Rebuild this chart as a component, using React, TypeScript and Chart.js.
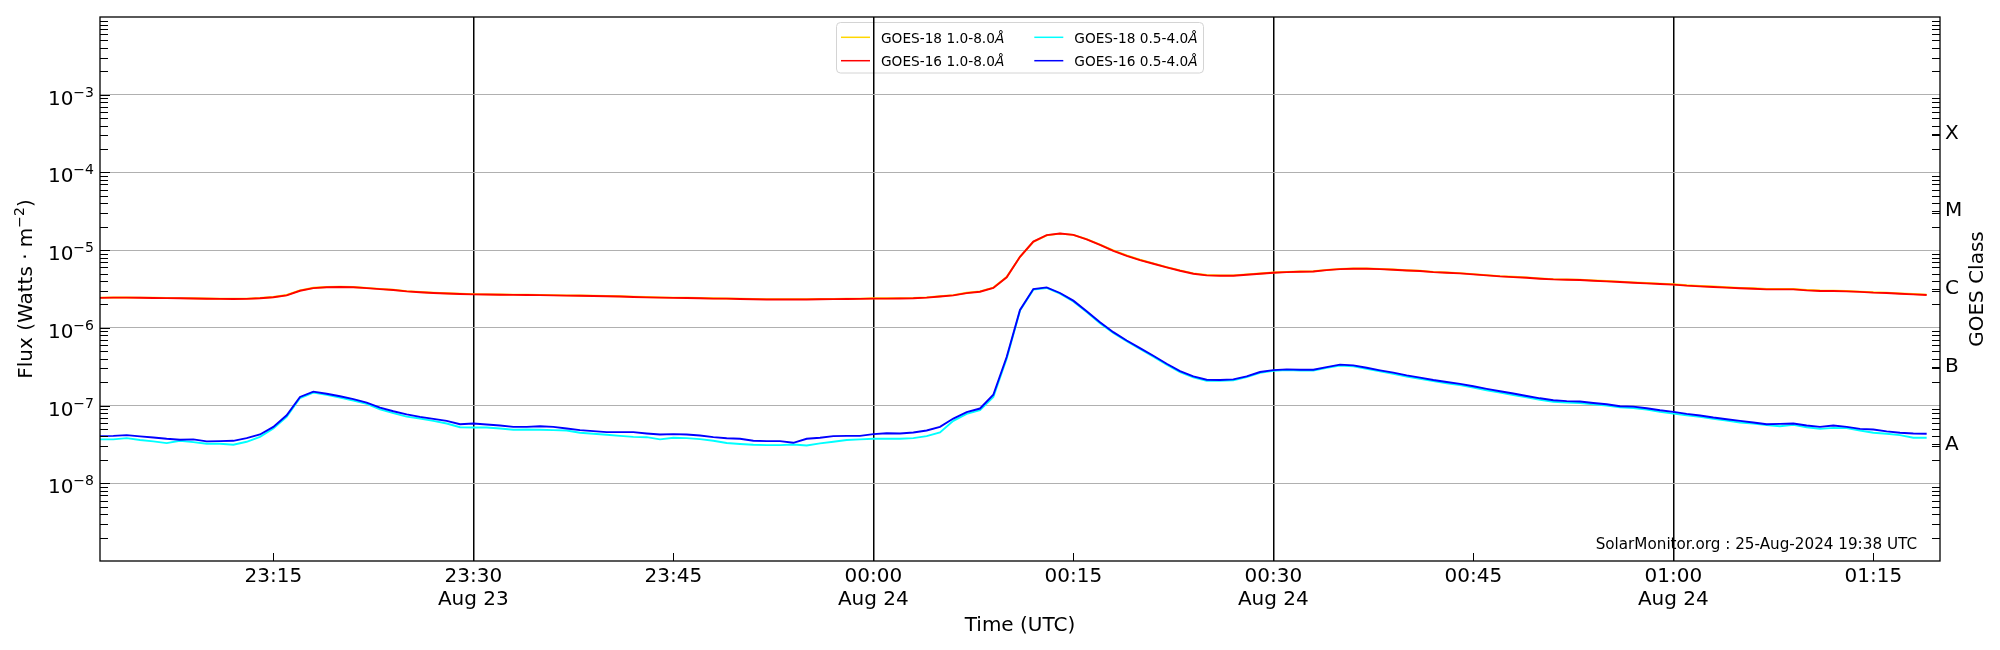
import React, { useEffect, useRef } from "react";
import { Chart, registerables } from "chart.js";

Chart.register(...registerables);

// minutes after 23:00 UT on Aug 23 (60 = 00:00 Aug 24)
const minutes = [
  2, 3, 4, 5, 6, 7, 8, 9, 10, 11,
  12, 13, 14, 15, 16, 17, 18, 19, 20, 21,
  22, 23, 24, 25, 26, 27, 28, 29, 30, 31,
  32, 33, 34, 35, 36, 37, 38, 39, 40, 41,
  42, 43, 44, 45, 46, 47, 48, 49, 50, 51,
  52, 53, 54, 55, 56, 57, 58, 59, 60, 61,
  62, 63, 64, 65, 66, 67, 68, 69, 70, 71,
  72, 73, 74, 75, 76, 77, 78, 79, 80, 81,
  82, 83, 84, 85, 86, 87, 88, 89, 90, 91,
  92, 93, 94, 95, 96, 97, 98, 99, 100, 101,
  102, 103, 104, 105, 106, 107, 108, 109, 110, 111,
  112, 113, 114, 115, 116, 117, 118, 119, 120, 121,
  122, 123, 124, 125, 126, 127, 128, 129, 130, 131,
  132, 133, 134, 135, 136, 137, 138, 139,
];

// 1.0-8.0 A channel, in 1e-6 W/m2
const goes18Long = [
  2.45, 2.47, 2.46, 2.45, 2.44, 2.42, 2.41, 2.4, 2.39, 2.37,
  2.37, 2.38, 2.42, 2.5, 2.65, 3.04, 3.28, 3.36, 3.38, 3.35,
  3.27, 3.17, 3.09, 2.97, 2.89, 2.83, 2.79, 2.75, 2.72, 2.7,
  2.69, 2.68, 2.67, 2.66, 2.64, 2.62, 2.61, 2.59, 2.57, 2.55,
  2.52, 2.49, 2.47, 2.45, 2.44, 2.42, 2.4, 2.39, 2.37, 2.35,
  2.34, 2.34, 2.34, 2.34, 2.35, 2.36, 2.37, 2.38, 2.4, 2.4,
  2.41, 2.42, 2.47, 2.55, 2.64, 2.83, 2.95, 3.3, 4.5, 8.2,
  12.8, 15.5, 16.3, 15.7, 13.9, 11.8, 9.9, 8.55, 7.52, 6.75,
  6.06, 5.49, 5.02, 4.78, 4.73, 4.73, 4.87, 5.01, 5.16, 5.26,
  5.32, 5.36, 5.58, 5.74, 5.8, 5.8, 5.74, 5.64, 5.52, 5.42,
  5.26, 5.16, 5.06, 4.91, 4.77, 4.63, 4.54, 4.46, 4.33, 4.24,
  4.2, 4.16, 4.08, 4.0, 3.93, 3.85, 3.78, 3.71, 3.64, 3.53,
  3.46, 3.4, 3.33, 3.27, 3.23, 3.17, 3.16, 3.16, 3.08, 3.02,
  3.01, 2.98, 2.93, 2.87, 2.84, 2.78, 2.73, 2.68,
];
const goes16Long = [
  2.43, 2.45, 2.45, 2.44, 2.42, 2.41, 2.4, 2.39, 2.37, 2.36,
  2.35, 2.36, 2.4, 2.48, 2.62, 3.0, 3.25, 3.33, 3.36, 3.33,
  3.25, 3.15, 3.07, 2.95, 2.87, 2.81, 2.77, 2.73, 2.7, 2.69,
  2.67, 2.66, 2.65, 2.64, 2.62, 2.6, 2.59, 2.57, 2.55, 2.53,
  2.5, 2.47, 2.45, 2.43, 2.42, 2.4, 2.38, 2.38, 2.35, 2.33,
  2.32, 2.32, 2.32, 2.32, 2.33, 2.34, 2.35, 2.36, 2.38, 2.38,
  2.39, 2.4, 2.45, 2.53, 2.62, 2.8, 2.92, 3.26, 4.47, 8.22,
  12.9, 15.6, 16.4, 15.7, 13.8, 11.7, 9.8, 8.45, 7.44, 6.68,
  6.0, 5.43, 4.97, 4.73, 4.69, 4.69, 4.83, 4.97, 5.12, 5.22,
  5.28, 5.32, 5.54, 5.7, 5.76, 5.76, 5.7, 5.6, 5.48, 5.38,
  5.22, 5.12, 5.02, 4.87, 4.73, 4.59, 4.5, 4.42, 4.29, 4.2,
  4.16, 4.12, 4.04, 3.96, 3.89, 3.81, 3.74, 3.67, 3.6, 3.49,
  3.42, 3.36, 3.29, 3.23, 3.19, 3.13, 3.13, 3.13, 3.04, 2.98,
  2.98, 2.95, 2.9, 2.84, 2.81, 2.75, 2.7, 2.65,
];

// 0.5-4.0 A channel, in 1e-8 W/m2
const goes18Short = [
  3.67, 3.67, 3.81, 3.6, 3.46, 3.29, 3.52, 3.39, 3.23, 3.23,
  3.13, 3.42, 3.96, 5.07, 7.16, 12.5, 14.7, 13.8, 12.7, 11.6,
  10.5, 8.97, 7.98, 7.2, 6.81, 6.36, 5.88, 5.27, 5.22, 5.22,
  5.07, 4.88, 4.93, 4.88, 4.83, 4.78, 4.47, 4.34, 4.21, 4.08,
  3.96, 3.92, 3.67, 3.85, 3.81, 3.7, 3.52, 3.3, 3.2, 3.13,
  3.1, 3.1, 3.16, 3.06, 3.26, 3.42, 3.6, 3.67, 3.74, 3.74,
  3.74, 3.81, 4.05, 4.51, 6.36, 7.8, 8.7, 12.9, 40.0, 167,
  310, 326, 275, 219, 160, 115, 86, 67.2, 53.5, 42.6,
  33.6, 27.0, 23.1, 20.9, 20.8, 21.2, 23.2, 26.4, 28.0, 28.6,
  28.3, 28.2, 30.6, 32.8, 32.0, 29.8, 27.5, 25.6, 23.7, 22.1,
  20.6, 19.4, 18.3, 17.0, 15.7, 14.7, 13.7, 12.8, 11.9, 11.2,
  10.9, 10.8, 10.4, 10.0, 9.5, 9.3, 8.89, 8.29, 7.89, 7.51,
  7.16, 6.75, 6.43, 6.05, 5.88, 5.6, 5.43, 5.65, 5.27, 5.02,
  5.17, 5.12, 4.78, 4.47, 4.34, 4.17, 3.85, 3.85,
];
const goes16Short = [
  4.05, 4.08, 4.17, 4.01, 3.89, 3.74, 3.63, 3.67, 3.46, 3.49,
  3.52, 3.81, 4.25, 5.32, 7.51, 12.9, 15.1, 14.2, 13.2, 12.1,
  10.9, 9.42, 8.46, 7.7, 7.16, 6.75, 6.36, 5.76, 5.88, 5.7,
  5.54, 5.32, 5.32, 5.43, 5.32, 5.07, 4.83, 4.69, 4.55, 4.55,
  4.55, 4.38, 4.25, 4.29, 4.25, 4.12, 3.92, 3.8, 3.74, 3.52,
  3.49, 3.49, 3.32, 3.74, 3.85, 4.05, 4.08, 4.08, 4.29, 4.41,
  4.38, 4.51, 4.78, 5.32, 6.81, 8.22, 9.16, 13.8, 42.1, 170,
  316, 332, 281, 224, 164, 118, 88, 68.8, 54.8, 43.7,
  34.5, 27.8, 23.8, 21.5, 21.3, 21.7, 23.8, 27.0, 28.6, 29.2,
  28.9, 28.9, 31.3, 33.6, 32.9, 30.7, 28.4, 26.5, 24.5, 22.9,
  21.3, 20.1, 19.0, 17.7, 16.4, 15.3, 14.3, 13.3, 12.4, 11.7,
  11.4, 11.3, 10.8, 10.4, 9.8, 9.7, 9.25, 8.71, 8.29, 7.82,
  7.45, 7.02, 6.68, 6.36, 6.05, 5.76, 5.82, 5.88, 5.54, 5.32,
  5.54, 5.32, 5.02, 4.93, 4.65, 4.47, 4.38, 4.34,
];

const tickMinutes = [15, 30, 45, 60, 75, 90, 105, 120, 135];
const tickTimes = ["23:15", "23:30", "23:45", "00:00", "00:15", "00:30", "00:45", "01:00", "01:15"];
const tickDates = ["", "Aug 23", "", "Aug 24", "", "Aug 24", "", "Aug 24", ""];
const dayLineMinutes = [30, 60, 90, 120];

const fluxTicks = [1e-8, 1e-7, 1e-6, 1e-5, 1e-4, 1e-3];
const fluxExponents = ["\u22128", "\u22127", "\u22126", "\u22125", "\u22124", "\u22123"];
const classTicks = [3.162e-8, 3.162e-7, 3.162e-6, 3.162e-5, 3.162e-4];
const classLabels = ["A", "B", "C", "M", "X"];

const FONT = '"DejaVu Sans", sans-serif';

const series = [
  { label: "GOES-18 1.0-8.0", values: goes18Long, unit: 1e-6, color: "#ffd700", order: 4 },
  { label: "GOES-16 1.0-8.0", values: goes16Long, unit: 1e-6, color: "#ff0000", order: 3 },
  { label: "GOES-18 0.5-4.0", values: goes18Short, unit: 1e-8, color: "#00ffff", order: 2 },
  { label: "GOES-16 0.5-4.0", values: goes16Short, unit: 1e-8, color: "#0000ff", order: 1 },
];

// text with optional superscript pieces, left to right from x
function drawPieces(ctx: CanvasRenderingContext2D, pieces: any[], x: number, y: number) {
  let cx = x;
  for (const p of pieces) {
    ctx.font = `${p.italic ? "italic " : ""}${p.size}px ${FONT}`;
    ctx.fillText(p.text, cx, y - (p.rise || 0));
    cx += ctx.measureText(p.text).width;
  }
  return cx - x;
}

function piecesWidth(ctx: CanvasRenderingContext2D, pieces: any[]) {
  let w = 0;
  for (const p of pieces) {
    ctx.font = `${p.italic ? "italic " : ""}${p.size}px ${FONT}`;
    w += ctx.measureText(p.text).width;
  }
  return w;
}

const decor = {
  id: "goesDecor",
  beforeDraw(chart: any) {
    const { ctx, width, height } = chart;
    ctx.save();
    ctx.fillStyle = "#ffffff";
    ctx.fillRect(0, 0, width, height);

    // legend, two columns like matplotlib
    ctx.beginPath();
    ctx.roundRect(836.5, 22.5, 367, 50.5, 4);
    ctx.fillStyle = "#ffffff";
    ctx.fill();
    ctx.strokeStyle = "#d4d4d4";
    ctx.lineWidth = 1;
    ctx.stroke();
    const slots = [
      [841, 37.3],
      [841, 60.7],
      [1034.3, 37.3],
      [1034.3, 60.7],
    ];
    series.forEach((s, i) => {
      const [lx, ly] = slots[i];
      ctx.beginPath();
      ctx.moveTo(lx, ly);
      ctx.lineTo(lx + 29, ly);
      ctx.strokeStyle = s.color;
      ctx.lineWidth = 1.5;
      ctx.stroke();
      ctx.fillStyle = "#000";
      ctx.textAlign = "left";
      ctx.textBaseline = "alphabetic";
      drawPieces(ctx, [
        { text: s.label, size: 13.7 },
        { text: "\u00c5", size: 13.7, italic: true },
      ], lx + 40, ly + 5.2);
    });

    // watermark
    ctx.font = `15.2px ${FONT}`;
    ctx.fillStyle = "#000";
    ctx.textAlign = "right";
    ctx.textBaseline = "alphabetic";
    ctx.fillText("SolarMonitor.org : 25-Aug-2024 19:38 UTC", 1917, 549);
    ctx.restore();
  },
  afterDraw(chart: any) {
    const { ctx, chartArea: a, scales } = chart;
    const y = scales.y;
    const x = scales.x;
    ctx.save();
    ctx.strokeStyle = "#000";
    ctx.lineWidth = 1;
    ctx.beginPath();
    for (let e = -9; e < -2; e++) {
      for (let k = 1; k <= 9; k++) {
        const v = k * Math.pow(10, e);
        if (v <= 1.0001e-9 || v >= 0.9999e-2) continue;
        const py = Math.round(y.getPixelForValue(v)) + 0.5;
        ctx.moveTo(a.left, py);
        ctx.lineTo(a.left + (k === 1 ? 10 : 8), py);
        if (k !== 1) {
          ctx.moveTo(a.right, py);
          ctx.lineTo(a.right - 8, py);
        }
      }
    }
    for (const v of classTicks) {
      const py = Math.round(y.getPixelForValue(v)) + 0.5;
      ctx.moveTo(a.right, py);
      ctx.lineTo(a.right - 8, py);
    }
    for (const m of tickMinutes) {
      const px = Math.round(x.getPixelForValue(m)) + 0.5;
      ctx.moveTo(px, a.bottom);
      ctx.lineTo(px, a.bottom - 8);
    }
    ctx.stroke();

    // frame
    ctx.lineWidth = 1.3;
    ctx.strokeRect(a.left, a.top, a.right - a.left, a.bottom - a.top);

    // left tick labels 10^n
    ctx.fillStyle = "#000";
    ctx.textAlign = "left";
    ctx.textBaseline = "alphabetic";
    fluxTicks.forEach((v, i) => {
      const py = y.getPixelForValue(v);
      const pieces = [
        { text: "10", size: 20 },
        { text: fluxExponents[i], size: 14, rise: 8 },
      ];
      const w = piecesWidth(ctx, pieces);
      drawPieces(ctx, pieces, a.left - 6 - w, py + 10);
    });

    // axis titles
    const midY = (a.top + a.bottom) / 2;
    const flux = [
      { text: "Flux (Watts \u00b7 m", size: 20 },
      { text: "\u22122", size: 14, rise: 8 },
      { text: ")", size: 20 },
    ];
    ctx.save();
    ctx.translate(32, midY);
    ctx.rotate(-Math.PI / 2);
    drawPieces(ctx, flux, -piecesWidth(ctx, flux) / 2, 0);
    ctx.restore();

    const cls = [{ text: "GOES Class", size: 20 }];
    ctx.save();
    ctx.translate(1983, midY);
    ctx.rotate(-Math.PI / 2);
    drawPieces(ctx, cls, -piecesWidth(ctx, cls) / 2, 0);
    ctx.restore();

    ctx.font = `20px ${FONT}`;
    ctx.textAlign = "center";
    ctx.fillText("Time (UTC)", (a.left + a.right) / 2, 631);
    ctx.restore();
  },
};

const GoesChart = () => {
  const canvasRef = useRef<HTMLCanvasElement | null>(null);

  useEffect(() => {
    const ctx = canvasRef.current?.getContext("2d") as CanvasRenderingContext2D;
    const config: any = {
      type: "line",
      data: {
        datasets: series.map((s) => ({
          label: s.label,
          data: minutes.map((m, i) => ({ x: m, y: s.values[i] * s.unit })),
          borderColor: s.color,
          backgroundColor: s.color,
          borderWidth: 1.9,
          pointRadius: 0,
          tension: 0,
          fill: false,
          order: s.order,
        })),
      },
      options: {
        animation: false,
        responsive: false,
        devicePixelRatio: 1,
        events: [],
        layout: { padding: { top: 15, left: 0, right: 0, bottom: 0 } },
        plugins: {
          legend: { display: false },
          tooltip: { enabled: false },
        },
        scales: {
          x: {
            type: "linear",
            position: "bottom",
            min: 2,
            max: 140,
            afterBuildTicks: (s: any) => {
              s.ticks = tickMinutes.map((v) => ({ value: v }));
            },
            afterFit: (s: any) => {
              s.height = 89;
            },
            ticks: {
              autoSkip: false,
              maxRotation: 0,
              padding: 5,
              color: "#000",
              font: { family: FONT, size: 20, lineHeight: 1.12 },
              callback: (v: number) => {
                const i = tickMinutes.indexOf(v);
                if (i < 0) return "";
                return tickDates[i] ? [tickTimes[i], tickDates[i]] : tickTimes[i];
              },
            },
            grid: {
              drawTicks: false,
              lineWidth: 1.5,
              color: (c: any) =>
                c.tick && dayLineMinutes.includes(c.tick.value) ? "#000000" : "rgba(0,0,0,0)",
            },
            border: { display: false },
          },
          y: {
            type: "logarithmic",
            position: "left",
            min: 1e-9,
            max: 1e-2,
            afterBuildTicks: (s: any) => {
              s.ticks = fluxTicks.map((v) => ({ value: v }));
            },
            afterFit: (s: any) => {
              s.width = 100;
            },
            ticks: { display: false },
            grid: { color: "#b0b0b0", lineWidth: 1, drawTicks: false },
            border: { display: false },
          },
          y2: {
            type: "logarithmic",
            position: "right",
            min: 1e-9,
            max: 1e-2,
            afterBuildTicks: (s: any) => {
              s.ticks = classTicks.map((v) => ({ value: v }));
            },
            afterFit: (s: any) => {
              s.width = 60;
            },
            ticks: {
              padding: 5,
              color: "#000",
              font: { family: FONT, size: 20 },
              callback: (_v: number, i: number) => classLabels[i],
            },
            grid: { display: false, drawTicks: false },
            border: { display: false },
          },
        },
      },
      plugins: [decor],
    };
    const chart = new Chart(ctx, config);
    return () => {
      chart.destroy();
    };
  }, []);

  return (
    <div style={{ position: "fixed", left: 0, top: 0, width: 2000, height: 650, background: "#fff" }}>
      <canvas ref={canvasRef} width={2000} height={650} style={{ display: "block" }} />
    </div>
  );
};

export default function App() {
  return <GoesChart />;
}
